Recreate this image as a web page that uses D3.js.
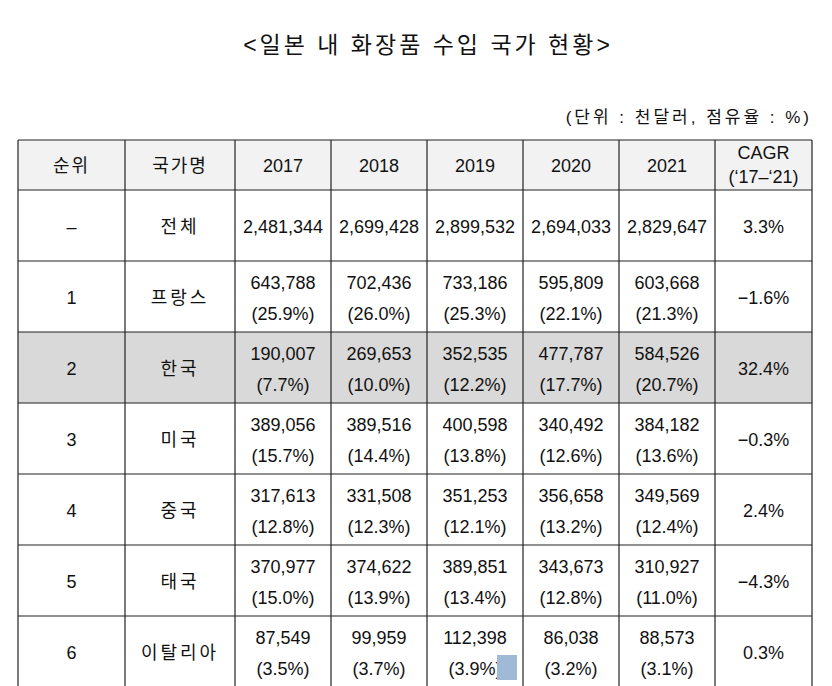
<!DOCTYPE html>
<html><head><meta charset="utf-8">
<script src="https://cdn.jsdelivr.net/npm/d3@7"></script>
<style>body{margin:0;background:#fff}text{font-family:"Liberation Sans","Noto Sans CJK KR",sans-serif;fill:#111}</style>
</head><body><svg id="c" width="832" height="686"></svg>
<script>
const headers = ["순위","국가명","2017","2018","2019","2020","2021","CAGR\n('17-'21)"];
const ranks = ["-","1","2","3","4","5","6"];
const countries = ["전체","프랑스","한국","미국","중국","태국","이탈리아"];
const values = [
 [2481344,2699428,2899532,2694033,2829647],
 [643788,702436,733186,595809,603668],
 [190007,269653,352535,477787,584526],
 [389056,389516,400598,340492,384182],
 [317613,331508,351253,356658,349569],
 [370977,374622,389851,343673,310927],
 [87549,99959,112398,86038,88573]];
const shares = [
 null,
 [25.9,26.0,25.3,22.1,21.3],
 [7.7,10.0,12.2,17.7,20.7],
 [15.7,14.4,13.8,12.6,13.6],
 [12.8,12.3,12.1,13.2,12.4],
 [15.0,13.9,13.4,12.8,11.0],
 [3.5,3.7,3.9,3.2,3.1]];
const cagr = ["3.3%","-1.6%","32.4%","-0.3%","2.4%","-4.3%","0.3%"];
const highlightRow = 2;

const svg = d3.select("#c");
const colEdges = [18,125,235,331,427,523,619,715,812];
const x0 = d3.scaleOrdinal().domain(d3.range(8)).range(colEdges.slice(0,8));
const x1 = d3.scaleOrdinal().domain(d3.range(8)).range(colEdges.slice(1));
const cx = i => (x0(i)+x1(i))/2;
const headTop=140, headBot=190, rowH=71;
const y = d3.scaleLinear().domain([0,7]).range([headBot, headBot+7*rowH]);
const fmt = d3.format(",");
const FS="18px";

svg.append("text").attr("x",428).attr("y",53).attr("text-anchor","middle")
  .style("font-size","23px").style("letter-spacing","3px").text("<일본 내 화장품 수입 국가 현황>");
svg.append("text").attr("x",812).attr("y",123).attr("text-anchor","end")
  .style("font-size","17px").style("letter-spacing","3px").text("(단위 : 천달러, 점유율 : %)");

svg.append("rect").attr("x",colEdges[0]).attr("y",headTop).attr("width",colEdges[8]-colEdges[0]).attr("height",headBot-headTop).attr("fill","#f2f2f2");
svg.append("rect").attr("x",colEdges[0]).attr("y",y(highlightRow)).attr("width",colEdges[8]-colEdges[0]).attr("height",rowH).attr("fill","#d9d9d9");

headers.forEach((h,i)=>{
  const lines=h.split("\n");
  const t=svg.append("text").attr("x",cx(i)).attr("text-anchor","middle").style("font-size",FS);
  if(i<2) t.style("letter-spacing","2px");
  if(lines.length===1){t.attr("y",(headTop+headBot)/2+7).text(h);}
  else{t.append("tspan").attr("x",cx(i)).attr("y",headTop+19).text(lines[0]);
       t.append("tspan").attr("x",cx(i)).attr("y",headTop+43).text(lines[1].replace(/'/g,"‘").replace("-","–"));}
});

d3.range(7).forEach(r=>{
  const ym=y(r)+rowH/2;
  svg.append("text").attr("x",cx(0)).attr("y",ym+7).attr("text-anchor","middle").style("font-size",FS).text(ranks[r]==="-"?"–":ranks[r]);
  svg.append("text").attr("x",cx(1)).attr("y",ym+7).attr("text-anchor","middle").style("font-size",FS).style("letter-spacing","3px").text(countries[r]);
  values[r].forEach((v,j)=>{
    if(shares[r]){
      svg.append("text").attr("x",cx(j+2)).attr("y",ym-8).attr("text-anchor","middle").style("font-size",FS).text(fmt(v));
      svg.append("text").attr("x",cx(j+2)).attr("y",ym+23).attr("text-anchor","middle").style("font-size",FS).text("("+shares[r][j].toFixed(1)+"%)");
    } else {
      svg.append("text").attr("x",cx(j+2)).attr("y",ym+7).attr("text-anchor","middle").style("font-size",FS).text(fmt(v));
    }
  });
  svg.append("text").attr("x",cx(7)).attr("y",ym+7).attr("text-anchor","middle").style("font-size",FS).text(cagr[r].replace("-","−"));
});

const g=svg.append("g").attr("stroke","#222").attr("stroke-width",1.2);
[headTop].concat(d3.range(8).map(y)).forEach(yy=>g.append("line").attr("x1",colEdges[0]).attr("x2",colEdges[8]).attr("y1",yy).attr("y2",yy));
colEdges.forEach(xx=>g.append("line").attr("x1",xx).attr("x2",xx).attr("y1",headTop).attr("y2",y(7)));

svg.append("rect").attr("x",497).attr("y",655).attr("width",20).attr("height",25).attr("fill","#9fb9d6");
</script></body></html>
